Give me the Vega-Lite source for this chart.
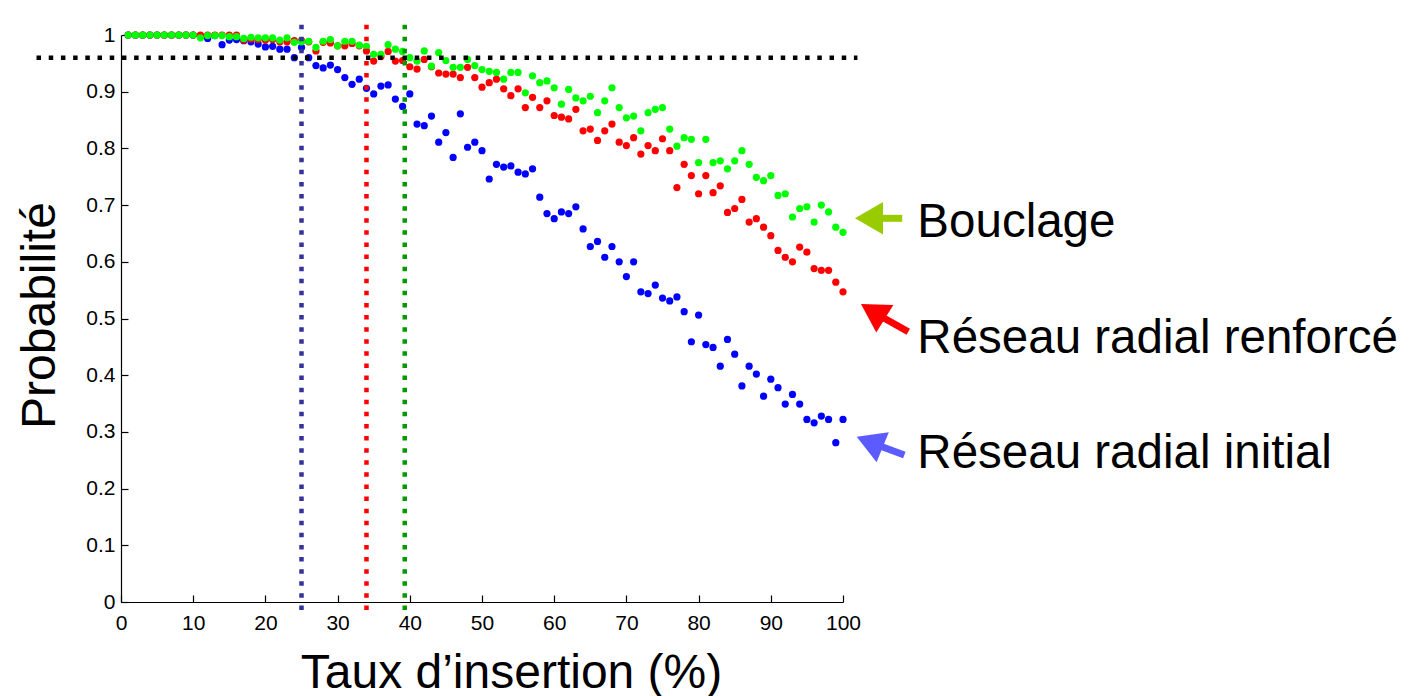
{
  "$schema": "https://vega.github.io/schema/vega-lite/v6.json",
  "autosize": {"type": "none"},
  "padding": {"left": 121, "top": 35, "right": 574, "bottom": 94},
  "width": 722,
  "height": 567,
  "background": "white",
  "config": {
    "font": "Liberation Sans",
    "view": {"stroke": null},
    "axis": {
      "grid": false,
      "domainColor": "black",
      "domainWidth": 1.2,
      "tickColor": "black",
      "tickWidth": 1.2,
      "tickSize": -7,
      "labelFlush": false,
      "labelOverlap": false,
      "labelColor": "black",
      "labelFontSize": 21,
      "labelFont": "Liberation Sans",
      "titleFont": "Liberation Sans",
      "titleFontWeight": "normal",
      "titleColor": "black",
      "titleFontSize": 48
    }
  },
  "datasets": {
    "pts": [
      {"x":1,"serie":"Initial","p":1},{"x":2,"serie":"Initial","p":1},{"x":3,"serie":"Initial","p":1},{"x":4,"serie":"Initial","p":1},{"x":5,"serie":"Initial","p":1},
      {"x":6,"serie":"Initial","p":1},{"x":7,"serie":"Initial","p":1},{"x":8,"serie":"Initial","p":1},{"x":9,"serie":"Initial","p":1},{"x":10,"serie":"Initial","p":1},
      {"x":11,"serie":"Initial","p":0.998},{"x":12,"serie":"Initial","p":0.994},{"x":13,"serie":"Initial","p":0.999},{"x":14,"serie":"Initial","p":0.983},{"x":15,"serie":"Initial","p":0.991},
      {"x":16,"serie":"Initial","p":0.992},{"x":17,"serie":"Initial","p":0.990},{"x":18,"serie":"Initial","p":0.988},{"x":19,"serie":"Initial","p":0.984},{"x":20,"serie":"Initial","p":0.979},
      {"x":21,"serie":"Initial","p":0.980},{"x":22,"serie":"Initial","p":0.975},{"x":23,"serie":"Initial","p":0.975},{"x":24,"serie":"Initial","p":0.960},{"x":25,"serie":"Initial","p":0.978},
      {"x":26,"serie":"Initial","p":0.960},{"x":27,"serie":"Initial","p":0.946},{"x":28,"serie":"Initial","p":0.942},{"x":29,"serie":"Initial","p":0.947},{"x":30,"serie":"Initial","p":0.939},
      {"x":31,"serie":"Initial","p":0.925},{"x":32,"serie":"Initial","p":0.913},{"x":33,"serie":"Initial","p":0.922},{"x":34,"serie":"Initial","p":0.906},{"x":35,"serie":"Initial","p":0.896},
      {"x":36,"serie":"Initial","p":0.910},{"x":37,"serie":"Initial","p":0.912},{"x":38,"serie":"Initial","p":0.887},{"x":39,"serie":"Initial","p":0.874},{"x":40,"serie":"Initial","p":0.896},
      {"x":41,"serie":"Initial","p":0.843},{"x":42,"serie":"Initial","p":0.840},{"x":43,"serie":"Initial","p":0.857},{"x":44,"serie":"Initial","p":0.811},{"x":45,"serie":"Initial","p":0.828},
      {"x":46,"serie":"Initial","p":0.784},{"x":47,"serie":"Initial","p":0.861},{"x":48,"serie":"Initial","p":0.802},{"x":49,"serie":"Initial","p":0.811},{"x":50,"serie":"Initial","p":0.796},
      {"x":51,"serie":"Initial","p":0.746},{"x":52,"serie":"Initial","p":0.772},{"x":53,"serie":"Initial","p":0.767},{"x":54,"serie":"Initial","p":0.769},{"x":55,"serie":"Initial","p":0.758},
      {"x":56,"serie":"Initial","p":0.755},{"x":57,"serie":"Initial","p":0.764},{"x":58,"serie":"Initial","p":0.714},{"x":59,"serie":"Initial","p":0.685},{"x":60,"serie":"Initial","p":0.676},
      {"x":61,"serie":"Initial","p":0.688},{"x":62,"serie":"Initial","p":0.685},{"x":63,"serie":"Initial","p":0.697},{"x":64,"serie":"Initial","p":0.658},{"x":65,"serie":"Initial","p":0.627},
      {"x":66,"serie":"Initial","p":0.636},{"x":67,"serie":"Initial","p":0.608},{"x":68,"serie":"Initial","p":0.627},{"x":69,"serie":"Initial","p":0.600},{"x":70,"serie":"Initial","p":0.574},
      {"x":71,"serie":"Initial","p":0.600},{"x":72,"serie":"Initial","p":0.547},{"x":73,"serie":"Initial","p":0.544},{"x":74,"serie":"Initial","p":0.559},{"x":75,"serie":"Initial","p":0.536},
      {"x":76,"serie":"Initial","p":0.531},{"x":77,"serie":"Initial","p":0.538},{"x":78,"serie":"Initial","p":0.512},{"x":79,"serie":"Initial","p":0.459},{"x":80,"serie":"Initial","p":0.506},
      {"x":81,"serie":"Initial","p":0.454},{"x":82,"serie":"Initial","p":0.449},{"x":83,"serie":"Initial","p":0.416},{"x":84,"serie":"Initial","p":0.463},{"x":85,"serie":"Initial","p":0.437},
      {"x":86,"serie":"Initial","p":0.381},{"x":87,"serie":"Initial","p":0.416},{"x":88,"serie":"Initial","p":0.402},{"x":89,"serie":"Initial","p":0.363},{"x":90,"serie":"Initial","p":0.393},
      {"x":91,"serie":"Initial","p":0.378},{"x":92,"serie":"Initial","p":0.349},{"x":93,"serie":"Initial","p":0.366},{"x":94,"serie":"Initial","p":0.349},{"x":95,"serie":"Initial","p":0.322},
      {"x":96,"serie":"Initial","p":0.316},{"x":97,"serie":"Initial","p":0.328},{"x":98,"serie":"Initial","p":0.322},{"x":99,"serie":"Initial","p":0.281},{"x":100,"serie":"Initial","p":0.322},

      {"x":1,"serie":"Renforcé","p":1},{"x":2,"serie":"Renforcé","p":1},{"x":3,"serie":"Renforcé","p":1},{"x":4,"serie":"Renforcé","p":1},{"x":5,"serie":"Renforcé","p":1},
      {"x":6,"serie":"Renforcé","p":1},{"x":7,"serie":"Renforcé","p":1},{"x":8,"serie":"Renforcé","p":1},{"x":9,"serie":"Renforcé","p":1},{"x":10,"serie":"Renforcé","p":1},
      {"x":11,"serie":"Renforcé","p":1},{"x":12,"serie":"Renforcé","p":1},{"x":13,"serie":"Renforcé","p":1},{"x":14,"serie":"Renforcé","p":1},{"x":15,"serie":"Renforcé","p":1},
      {"x":16,"serie":"Renforcé","p":1},{"x":17,"serie":"Renforcé","p":0.991},{"x":18,"serie":"Renforcé","p":0.993},{"x":19,"serie":"Renforcé","p":0.992},{"x":20,"serie":"Renforcé","p":0.991},
      {"x":21,"serie":"Renforcé","p":0.992},{"x":22,"serie":"Renforcé","p":0.988},{"x":23,"serie":"Renforcé","p":0.988},{"x":24,"serie":"Renforcé","p":0.990},{"x":25,"serie":"Renforcé","p":0.990},
      {"x":26,"serie":"Renforcé","p":0.988},{"x":27,"serie":"Renforcé","p":0.972},{"x":28,"serie":"Renforcé","p":0.987},{"x":29,"serie":"Renforcé","p":0.986},{"x":30,"serie":"Renforcé","p":0.981},
      {"x":31,"serie":"Renforcé","p":0.981},{"x":32,"serie":"Renforcé","p":0.985},{"x":33,"serie":"Renforcé","p":0.981},{"x":34,"serie":"Renforcé","p":0.972},{"x":35,"serie":"Renforcé","p":0.954},
      {"x":36,"serie":"Renforcé","p":0.962},{"x":37,"serie":"Renforcé","p":0.971},{"x":38,"serie":"Renforcé","p":0.954},{"x":39,"serie":"Renforcé","p":0.955},{"x":40,"serie":"Renforcé","p":0.944},
      {"x":41,"serie":"Renforcé","p":0.940},{"x":42,"serie":"Renforcé","p":0.957},{"x":43,"serie":"Renforcé","p":0.944},{"x":44,"serie":"Renforcé","p":0.933},{"x":45,"serie":"Renforcé","p":0.931},
      {"x":46,"serie":"Renforcé","p":0.931},{"x":47,"serie":"Renforcé","p":0.925},{"x":48,"serie":"Renforcé","p":0.943},{"x":49,"serie":"Renforcé","p":0.925},{"x":50,"serie":"Renforcé","p":0.908},
      {"x":51,"serie":"Renforcé","p":0.916},{"x":52,"serie":"Renforcé","p":0.922},{"x":53,"serie":"Renforcé","p":0.905},{"x":54,"serie":"Renforcé","p":0.893},{"x":55,"serie":"Renforcé","p":0.905},
      {"x":56,"serie":"Renforcé","p":0.872},{"x":57,"serie":"Renforcé","p":0.890},{"x":58,"serie":"Renforcé","p":0.872},{"x":59,"serie":"Renforcé","p":0.884},{"x":60,"serie":"Renforcé","p":0.858},
      {"x":61,"serie":"Renforcé","p":0.855},{"x":62,"serie":"Renforcé","p":0.852},{"x":63,"serie":"Renforcé","p":0.869},{"x":64,"serie":"Renforcé","p":0.831},{"x":65,"serie":"Renforcé","p":0.834},
      {"x":66,"serie":"Renforcé","p":0.814},{"x":67,"serie":"Renforcé","p":0.831},{"x":68,"serie":"Renforcé","p":0.843},{"x":69,"serie":"Renforcé","p":0.811},{"x":70,"serie":"Renforcé","p":0.805},
      {"x":71,"serie":"Renforcé","p":0.819},{"x":72,"serie":"Renforcé","p":0.790},{"x":73,"serie":"Renforcé","p":0.805},{"x":74,"serie":"Renforcé","p":0.796},{"x":75,"serie":"Renforcé","p":0.817},
      {"x":76,"serie":"Renforcé","p":0.796},{"x":77,"serie":"Renforcé","p":0.731},{"x":78,"serie":"Renforcé","p":0.772},{"x":79,"serie":"Renforcé","p":0.752},{"x":80,"serie":"Renforcé","p":0.720},
      {"x":81,"serie":"Renforcé","p":0.752},{"x":82,"serie":"Renforcé","p":0.722},{"x":83,"serie":"Renforcé","p":0.734},{"x":84,"serie":"Renforcé","p":0.687},{"x":85,"serie":"Renforcé","p":0.694},
      {"x":86,"serie":"Renforcé","p":0.710},{"x":87,"serie":"Renforcé","p":0.670},{"x":88,"serie":"Renforcé","p":0.676},{"x":89,"serie":"Renforcé","p":0.661},{"x":90,"serie":"Renforcé","p":0.646},
      {"x":91,"serie":"Renforcé","p":0.620},{"x":92,"serie":"Renforcé","p":0.608},{"x":93,"serie":"Renforcé","p":0.600},{"x":94,"serie":"Renforcé","p":0.626},{"x":95,"serie":"Renforcé","p":0.617},
      {"x":96,"serie":"Renforcé","p":0.588},{"x":97,"serie":"Renforcé","p":0.585},{"x":98,"serie":"Renforcé","p":0.585},{"x":99,"serie":"Renforcé","p":0.564},{"x":100,"serie":"Renforcé","p":0.547},

      {"x":1,"serie":"Bouclage","p":1},{"x":2,"serie":"Bouclage","p":1},{"x":3,"serie":"Bouclage","p":1},{"x":4,"serie":"Bouclage","p":1},{"x":5,"serie":"Bouclage","p":1},
      {"x":6,"serie":"Bouclage","p":1},{"x":7,"serie":"Bouclage","p":1},{"x":8,"serie":"Bouclage","p":1},{"x":9,"serie":"Bouclage","p":1},{"x":10,"serie":"Bouclage","p":1},
      {"x":11,"serie":"Bouclage","p":0.995},{"x":12,"serie":"Bouclage","p":0.999},{"x":13,"serie":"Bouclage","p":0.999},{"x":14,"serie":"Bouclage","p":0.999},{"x":15,"serie":"Bouclage","p":0.997},
      {"x":16,"serie":"Bouclage","p":0.997},{"x":17,"serie":"Bouclage","p":0.994},{"x":18,"serie":"Bouclage","p":0.996},{"x":19,"serie":"Bouclage","p":0.995},{"x":20,"serie":"Bouclage","p":0.995},
      {"x":21,"serie":"Bouclage","p":0.995},{"x":22,"serie":"Bouclage","p":0.991},{"x":23,"serie":"Bouclage","p":0.995},{"x":24,"serie":"Bouclage","p":0.987},{"x":25,"serie":"Bouclage","p":0.988},
      {"x":26,"serie":"Bouclage","p":0.989},{"x":27,"serie":"Bouclage","p":0.978},{"x":28,"serie":"Bouclage","p":0.989},{"x":29,"serie":"Bouclage","p":0.992},{"x":30,"serie":"Bouclage","p":0.981},
      {"x":31,"serie":"Bouclage","p":0.989},{"x":32,"serie":"Bouclage","p":0.989},{"x":33,"serie":"Bouclage","p":0.982},{"x":34,"serie":"Bouclage","p":0.980},{"x":35,"serie":"Bouclage","p":0.966},
      {"x":36,"serie":"Bouclage","p":0.966},{"x":37,"serie":"Bouclage","p":0.983},{"x":38,"serie":"Bouclage","p":0.975},{"x":39,"serie":"Bouclage","p":0.971},{"x":40,"serie":"Bouclage","p":0.960},
      {"x":41,"serie":"Bouclage","p":0.954},{"x":42,"serie":"Bouclage","p":0.972},{"x":43,"serie":"Bouclage","p":0.945},{"x":44,"serie":"Bouclage","p":0.969},{"x":45,"serie":"Bouclage","p":0.955},
      {"x":46,"serie":"Bouclage","p":0.943},{"x":47,"serie":"Bouclage","p":0.943},{"x":48,"serie":"Bouclage","p":0.957},{"x":49,"serie":"Bouclage","p":0.946},{"x":50,"serie":"Bouclage","p":0.939},
      {"x":51,"serie":"Bouclage","p":0.936},{"x":52,"serie":"Bouclage","p":0.934},{"x":53,"serie":"Bouclage","p":0.922},{"x":54,"serie":"Bouclage","p":0.934},{"x":55,"serie":"Bouclage","p":0.934},
      {"x":56,"serie":"Bouclage","p":0.898},{"x":57,"serie":"Bouclage","p":0.928},{"x":58,"serie":"Bouclage","p":0.916},{"x":59,"serie":"Bouclage","p":0.919},{"x":60,"serie":"Bouclage","p":0.907},
      {"x":61,"serie":"Bouclage","p":0.878},{"x":62,"serie":"Bouclage","p":0.904},{"x":63,"serie":"Bouclage","p":0.889},{"x":64,"serie":"Bouclage","p":0.884},{"x":65,"serie":"Bouclage","p":0.892},
      {"x":66,"serie":"Bouclage","p":0.863},{"x":67,"serie":"Bouclage","p":0.884},{"x":68,"serie":"Bouclage","p":0.907},{"x":69,"serie":"Bouclage","p":0.872},{"x":70,"serie":"Bouclage","p":0.854},
      {"x":71,"serie":"Bouclage","p":0.857},{"x":72,"serie":"Bouclage","p":0.831},{"x":73,"serie":"Bouclage","p":0.863},{"x":74,"serie":"Bouclage","p":0.869},{"x":75,"serie":"Bouclage","p":0.872},
      {"x":76,"serie":"Bouclage","p":0.834},{"x":77,"serie":"Bouclage","p":0.804},{"x":78,"serie":"Bouclage","p":0.819},{"x":79,"serie":"Bouclage","p":0.816},{"x":80,"serie":"Bouclage","p":0.775},
      {"x":81,"serie":"Bouclage","p":0.816},{"x":82,"serie":"Bouclage","p":0.775},{"x":83,"serie":"Bouclage","p":0.778},{"x":84,"serie":"Bouclage","p":0.764},{"x":85,"serie":"Bouclage","p":0.778},
      {"x":86,"serie":"Bouclage","p":0.796},{"x":87,"serie":"Bouclage","p":0.772},{"x":88,"serie":"Bouclage","p":0.749},{"x":89,"serie":"Bouclage","p":0.743},{"x":90,"serie":"Bouclage","p":0.752},
      {"x":91,"serie":"Bouclage","p":0.717},{"x":92,"serie":"Bouclage","p":0.720},{"x":93,"serie":"Bouclage","p":0.679},{"x":94,"serie":"Bouclage","p":0.694},{"x":95,"serie":"Bouclage","p":0.697},
      {"x":96,"serie":"Bouclage","p":0.670},{"x":97,"serie":"Bouclage","p":0.700},{"x":98,"serie":"Bouclage","p":0.688},{"x":99,"serie":"Bouclage","p":0.661},{"x":100,"serie":"Bouclage","p":0.652}
    ]
  },
  "layer": [
    {
      "data": {"name": "pts"},
      "mark": {"type": "circle", "size": 52, "opacity": 1, "strokeWidth": 0},
      "encoding": {
        "x": {
          "field": "x", "type": "quantitative",
          "scale": {"domain": [0, 100], "nice": false, "zero": false},
          "axis": {
            "values": [0, 10, 20, 30, 40, 50, 60, 70, 80, 90, 100],
            "labelPadding": 17,
            "title": "Taux d’insertion (%)",
            "titleX": 390, "titleY": 85,
            "titleAlign": "center", "titleBaseline": "alphabetic", "titleAnchor": null
          }
        },
        "y": {
          "field": "p", "type": "quantitative",
          "scale": {"domain": [0, 1], "nice": false},
          "axis": {
            "values": [0, 0.1, 0.2, 0.3, 0.4, 0.5, 0.6, 0.7, 0.8, 0.9, 1],
            "format": ".1~f",
            "labelPadding": 13,
            "title": "Probabilité",
            "titleAngle": -90,
            "titleX": -67, "titleY": 280,
            "titleAlign": "center", "titleBaseline": "alphabetic", "titleAnchor": null
          }
        },
        "color": {
          "field": "serie", "type": "nominal",
          "scale": {"domain": ["Initial", "Renforcé", "Bouclage"], "range": ["#0000FF", "#FF0000", "#00FF00"]},
          "legend": null
        }
      }
    },
    {
      "data": {"values": [{"seuil": 25, "bas": -0.014, "haut": 1.025}]},
      "mark": {"type": "rule", "color": "#333399", "strokeWidth": 4.5, "strokeDash": [4.5, 7.6], "strokeCap": "butt"},
      "encoding": {"x": {"field": "seuil", "type": "quantitative"}, "y": {"field": "bas", "type": "quantitative"}, "y2": {"field": "haut"}}
    },
    {
      "data": {"values": [{"seuil": 34, "bas": -0.014, "haut": 1.025}]},
      "mark": {"type": "rule", "color": "#FF0000", "strokeWidth": 4.5, "strokeDash": [4.5, 7.6], "strokeCap": "butt"},
      "encoding": {"x": {"field": "seuil", "type": "quantitative"}, "y": {"field": "bas", "type": "quantitative"}, "y2": {"field": "haut"}}
    },
    {
      "data": {"values": [{"seuil": 39.3, "bas": -0.014, "haut": 1.025}]},
      "mark": {"type": "rule", "color": "#009900", "strokeWidth": 4.5, "strokeDash": [4.5, 7.6], "strokeCap": "butt"},
      "encoding": {"x": {"field": "seuil", "type": "quantitative"}, "y": {"field": "bas", "type": "quantitative"}, "y2": {"field": "haut"}}
    },
    {
      "data": {"values": [{"debut": -11.7, "fin": 102, "niveau": 0.96}]},
      "mark": {"type": "rule", "color": "black", "strokeWidth": 4.5, "strokeDash": [4.5, 7.7], "strokeCap": "butt"},
      "encoding": {"x": {"field": "debut", "type": "quantitative"}, "x2": {"field": "fin"}, "y": {"field": "niveau", "type": "quantitative"}}
    },
    {
      "data": {"values": [{"x1": 105.1, "y1": 0.6767, "x2": 108.2, "y2": 0.6767}]},
      "mark": {"type": "rule", "color": "#99CC00", "strokeWidth": 7, "strokeCap": "butt"},
      "encoding": {"x": {"field": "x1", "type": "quantitative"}, "y": {"field": "y1", "type": "quantitative"}, "x2": {"field": "x2"}, "y2": {"field": "y2"}}
    },
    {
      "data": {"values": [{"x1": 105.4, "y1": 0.5026, "x2": 109.04, "y2": 0.4767}]},
      "mark": {"type": "rule", "color": "#FF0000", "strokeWidth": 7, "strokeCap": "butt"},
      "encoding": {"x": {"field": "x1", "type": "quantitative"}, "y": {"field": "y1", "type": "quantitative"}, "x2": {"field": "x2"}, "y2": {"field": "y2"}}
    },
    {
      "data": {"values": [{"x1": 105.12, "y1": 0.2751, "x2": 108.49, "y2": 0.2593}]},
      "mark": {"type": "rule", "color": "#5B5BFF", "strokeWidth": 7, "strokeCap": "butt"},
      "encoding": {"x": {"field": "x1", "type": "quantitative"}, "y": {"field": "y1", "type": "quantitative"}, "x2": {"field": "x2"}, "y2": {"field": "y2"}}
    },
    {
      "data": {"values": [{"hx": 103.6, "hy": 0.6767}]},
      "mark": {"type": "point", "shape": "triangle-left", "filled": true, "size": 1050, "color": "#99CC00", "opacity": 1, "strokeWidth": 0},
      "encoding": {"x": {"field": "hx", "type": "quantitative"}, "y": {"field": "hy", "type": "quantitative"}}
    },
    {
      "data": {"values": [{"hx": 104.14, "hy": 0.5125}]},
      "mark": {"type": "point", "shape": "triangle-up", "angle": 301.8, "filled": true, "size": 1050, "color": "#FF0000", "opacity": 1, "strokeWidth": 0},
      "encoding": {"x": {"field": "hx", "type": "quantitative"}, "y": {"field": "hy", "type": "quantitative"}}
    },
    {
      "data": {"values": [{"hx": 103.7, "hy": 0.2822}]},
      "mark": {"type": "point", "shape": "triangle-up", "angle": 292.1, "filled": true, "size": 1050, "color": "#5B5BFF", "opacity": 1, "strokeWidth": 0},
      "encoding": {"x": {"field": "hx", "type": "quantitative"}, "y": {"field": "hy", "type": "quantitative"}}
    },
    {
      "data": {"values": [
        {"tx": 110.3, "ty": 0.6443, "label": "Bouclage"},
        {"tx": 110.3, "ty": 0.4397, "label": "Réseau radial renforcé"},
        {"tx": 110.3, "ty": 0.2369, "label": "Réseau radial initial"}
      ]},
      "mark": {"type": "text", "align": "left", "baseline": "alphabetic", "fontSize": 47.5, "font": "Liberation Sans", "color": "black"},
      "encoding": {"x": {"field": "tx", "type": "quantitative"}, "y": {"field": "ty", "type": "quantitative"}, "text": {"field": "label"}}
    }
  ]
}
